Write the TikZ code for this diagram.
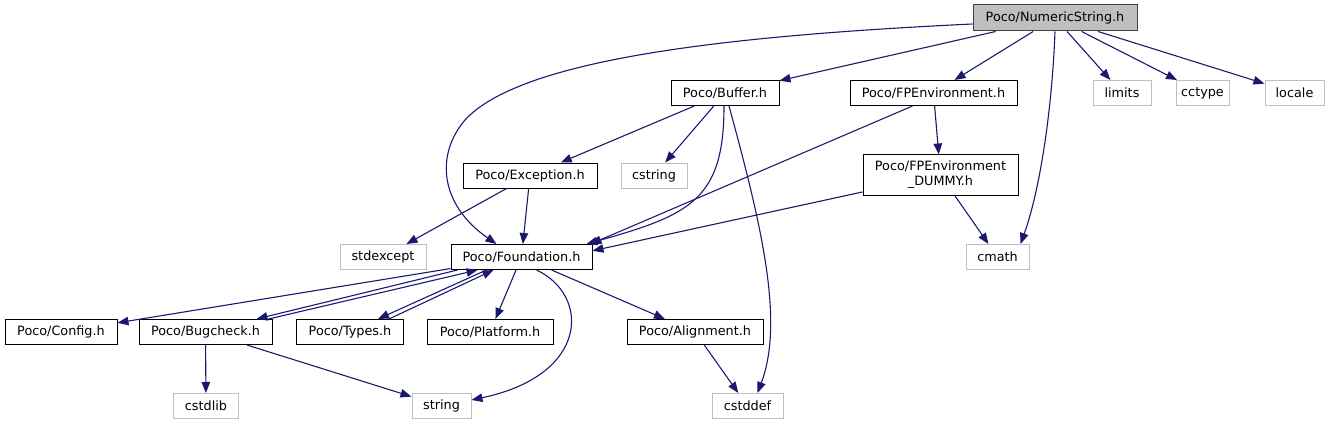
\documentclass[tikz,border=0pt]{standalone}
\usepackage{fontspec}
\setmainfont{DejaVu Sans}
\usepackage{tikz}
\usetikzlibrary{arrows.meta}
\definecolor{edgeblue}{HTML}{191970}
\definecolor{extgray}{HTML}{BFBFBF}
\definecolor{rootfill}{HTML}{BFBFBF}
\definecolor{rootdraw}{HTML}{404040}

\begin{document}
\begin{tikzpicture}[
  x=1pt, y=-1pt,
  hdr/.style={rectangle, draw=black, line width=1pt, fill=white, minimum height=25pt, inner sep=0pt, font=\fontsize{12.8}{15}\selectfont},
  ext/.style={hdr, draw=extgray},
  mainhdr/.style={hdr, draw=rootdraw, fill=rootfill},
  inc/.style={-{Triangle[length=11pt,width=8.5pt]}, line width=1.1pt, edgeblue}
]
\useasboundingbox (0,0) rectangle (1333,425);
\node[mainhdr, minimum width=164pt, minimum height=26pt] (numstr) at (1055,18) {Poco/NumericString.h};
\node[hdr, minimum width=108pt] (buffer) at (725,93) {Poco/Buffer.h};
\node[hdr, minimum width=167pt] (fpenv) at (933.5,93) {Poco/FPEnvironment.h};
\node[ext, minimum width=58pt] (limits) at (1122,93) {limits};
\node[ext, minimum width=53pt] (cctype) at (1202.5,93) {cctype};
\node[ext, minimum width=59pt] (locale) at (1294.5,93) {locale};
\node[hdr, minimum width=134pt] (exception) at (530,175.5) {Poco/Exception.h};
\node[ext, minimum width=66pt] (cstring) at (654,175.5) {cstring};
\node[hdr, minimum width=155pt, minimum height=40pt, align=center] (fpdummy) at (940.5,175) {Poco/FPEnvironment\\\_DUMMY.h};
\node[ext, minimum width=86pt] (stdexcept) at (383,257) {stdexcept};
\node[hdr, minimum width=141pt] (foundation) at (521.5,257) {Poco/Foundation.h};
\node[ext, minimum width=63pt] (cmath) at (997.5,257) {cmath};
\node[hdr, minimum width=112pt] (config) at (61,332) {Poco/Config.h};
\node[hdr, minimum width=133pt] (bugcheck) at (205.5,332) {Poco/Bugcheck.h};
\node[hdr, minimum width=107pt] (types) at (350,332) {Poco/Types.h};
\node[hdr, minimum width=126pt] (platform) at (490,332) {Poco/Platform.h};
\node[hdr, minimum width=136pt] (alignment) at (695,332) {Poco/Alignment.h};
\node[ext, minimum width=65pt] (cstdlib) at (206,406) {cstdlib};
\node[ext, minimum width=59pt] (string) at (441.5,406) {string};
\node[ext, minimum width=71pt] (cstddef) at (747.5,406) {cstddef};
\draw[inc] ([yshift=-6pt]numstr.west) .. controls (720,36) and (520,60) .. (465,120) .. controls (435,155) and (440,205) .. ([xshift=-25pt]foundation.north);
\draw[inc] (numstr) -- (buffer);
\draw[inc] (numstr) -- (fpenv);
\draw[inc] (numstr.south) .. controls (1052,110) and (1040,190) .. ([xshift=23pt]cmath.north);
\draw[inc] (numstr) -- (limits);
\draw[inc] (numstr) -- (cctype);
\draw[inc] (numstr) -- (locale);
\draw[inc] (buffer) -- (exception);
\draw[inc] (buffer) -- (cstring);
\draw[inc] ([xshift=-1pt]buffer.south) .. controls (724,200) and (690,215) .. ([xshift=-6pt]foundation.north east);
\draw[inc] ([xshift=4pt]buffer.south) .. controls (760,220) and (785,320) .. ([xshift=10pt]cstddef.north);
\draw[inc] ([xshift=-21pt]fpenv.south) -- ([xshift=-2pt]foundation.north east);
\draw[inc] (fpenv) -- (fpdummy);
\draw[inc] (fpdummy) -- (foundation.5);
\draw[inc] (fpdummy) -- (cmath);
\draw[inc] (exception) -- (stdexcept);
\draw[inc] (exception) -- (foundation);
\draw[inc] (foundation) -- (config);
\draw[inc] ([xshift=-64pt]foundation.south) -- ([xshift=51pt]bugcheck.north);
\draw[inc] ([xshift=63pt]bugcheck.north) -- ([xshift=-44pt]foundation.south);
\draw[inc] ([xshift=-35pt]foundation.south) -- ([xshift=28pt]types.north);
\draw[inc] ([xshift=39pt]types.north) -- ([xshift=-28pt]foundation.south);
\draw[inc] (foundation) -- (platform);
\draw[inc] ([xshift=15pt]foundation.south) .. controls (590,295) and (590,375) .. ([yshift=6pt]string.east);
\draw[inc] (foundation) -- (alignment);
\draw[inc] (bugcheck) -- (cstdlib);
\draw[inc] (bugcheck) -- (string);
\draw[inc] (alignment) -- (cstddef);
\end{tikzpicture}
\end{document}
